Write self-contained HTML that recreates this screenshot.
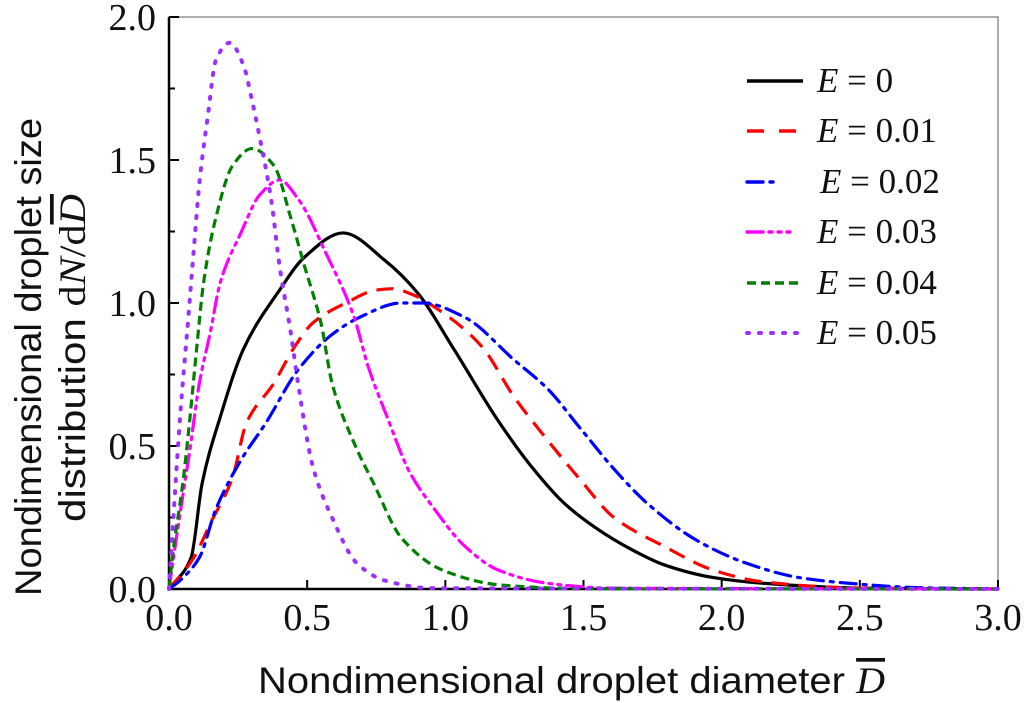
<!DOCTYPE html>
<html><head><meta charset="utf-8"><style>
body{margin:0;background:#fff;width:1024px;height:703px;overflow:hidden;position:relative}
svg{display:block}
.tk{font-family:"Liberation Serif",serif;font-size:38px;fill:#111}
.lg{font-family:"Liberation Serif",serif;font-size:35px;fill:#111}
.ti{font-family:"Liberation Sans",sans-serif;font-size:37px;fill:#111}
</style></head><body>
<svg id="chart" width="1024" height="703">
<g id="plot"></g>
</svg>
<script>
const xTicks=[0,0.5,1.0,1.5,2.0,2.5,3.0];
const xTickLabels=["0.0","0.5","1.0","1.5","2.0","2.5","3.0"];
const yTicks=[0,0.5,1.0,1.5,2.0];
const yTickLabels=["0.0","0.5","1.0","1.5","2.0"];
const seriesNames=["E = 0","E = 0.01","E = 0.02","E = 0.03","E = 0.04","E = 0.05"];
const x0=[0,0.08,0.12,0.185,0.27,0.40,0.49,0.63,0.78,0.90,1.03,1.19,1.31,1.43,1.55,1.67,1.79,1.97,2.15,2.5,3.0];
const y0=[0,0.11,0.37,0.60,0.84,1.045,1.16,1.245,1.15,1.035,0.84,0.59,0.43,0.30,0.21,0.14,0.085,0.04,0.02,0.003,0];
const x1=[0,0.09,0.15,0.23,0.28,0.38,0.45,0.52,0.64,0.75,0.81,0.88,0.97,1.13,1.25,1.37,1.49,1.61,1.79,1.97,2.15,2.5,3.0];
const y1=[0,0.11,0.23,0.39,0.58,0.72,0.84,0.93,1.0,1.045,1.05,1.03,0.98,0.85,0.67,0.52,0.38,0.25,0.15,0.066,0.025,0.003,0];
const x2=[0,0.04,0.11,0.17,0.26,0.35,0.47,0.59,0.69,0.84,0.92,1.07,1.25,1.37,1.49,1.61,1.73,1.91,2.09,2.28,2.46,2.7,3.0];
const y2=[0,0.03,0.11,0.28,0.45,0.58,0.77,0.89,0.95,1.0,1.0,0.95,0.80,0.70,0.56,0.42,0.30,0.17,0.09,0.04,0.02,0.005,0];
const x3=[0,0.03,0.076,0.11,0.15,0.185,0.26,0.33,0.40,0.47,0.57,0.67,0.72,0.79,0.87,0.96,1.07,1.19,1.37,1.6,3.0];
const y3=[0,0.2,0.49,0.72,0.90,1.07,1.245,1.38,1.43,1.36,1.17,0.95,0.78,0.60,0.41,0.28,0.15,0.067,0.02,0.003,0];
const x4=[0,0.016,0.05,0.076,0.10,0.125,0.17,0.23,0.30,0.38,0.44,0.49,0.55,0.59,0.67,0.74,0.84,0.99,1.2,1.5,3.0];
const y4=[0,0.14,0.37,0.60,0.84,1.07,1.30,1.48,1.54,1.48,1.30,1.13,0.93,0.72,0.51,0.37,0.18,0.066,0.014,0.001,0];
const x5=[0,0.016,0.04,0.07,0.09,0.11,0.14,0.17,0.22,0.27,0.30,0.33,0.37,0.40,0.44,0.47,0.52,0.59,0.68,0.78,0.95,3.0];
const y5=[0,0.25,0.6,0.95,1.19,1.42,1.65,1.85,1.91,1.83,1.71,1.57,1.36,1.13,0.90,0.70,0.43,0.25,0.09,0.03,0.003,0];
const XS=[x0,x1,x2,x3,x4,x5], YS=[y0,y1,y2,y3,y4,y5];
const colors=["#000","#ff0000","#0000ff","#ff00ff","#007f00","#9b30ff"];
const dashes=["","17 10","16 7 3 7","16 6 3 6 3 6","9 5","2 10"];
const caps=["butt","butt","round","round","butt","round"];
const L=169,R=998,T=17,B=589;
const sx=v=>L+(R-L)*v/3, sy=v=>B-(B-T)*v/2;
const NS="http://www.w3.org/2000/svg";
const svg=document.getElementById('chart');
function mk(t,a,p){const e=document.createElementNS(NS,t);for(const k in a)e.setAttribute(k,a[k]);(p||svg).appendChild(e);return e;}
const fr=mk('rect',{x:L,y:T,width:R-L,height:B-T,fill:'none',stroke:'#777','stroke-width':1.2});


const xa=mk('line',{x1:L,y1:B,x2:R,y2:B,stroke:'#000','stroke-width':2.5});


const ya=mk('line',{x1:L,y1:T,x2:L,y2:B,stroke:'#000','stroke-width':2.5});


xTicks.forEach((v,i)=>{
 const t=mk('line',{x1:sx(v),y1:B,x2:sx(v),y2:B-9,stroke:'#000','stroke-width':2});
 
 
 const tx=mk('text',{x:sx(v),y:B+41,'text-anchor':'middle',class:'tk'});tx.textContent=xTickLabels[i];
 
 
});
for(let v=0.25;v<2;v+=0.5){const t=mk('line',{x1:L,y1:sy(v),x2:L+6,y2:sy(v),stroke:'#000','stroke-width':2});
 
 }
yTicks.forEach((v,i)=>{
 const t=mk('line',{x1:L,y1:sy(v),x2:L+10,y2:sy(v),stroke:'#000','stroke-width':2});
 
 
 const tx=mk('text',{x:L-13,y:sy(v)+13,'text-anchor':'end',class:'tk'});tx.textContent=yTickLabels[i];
 
 
});
function path(xs,ys){
 const n=xs.length,h=[],d=[],m=[];
 for(let i=0;i<n-1;i++){h[i]=xs[i+1]-xs[i];d[i]=(ys[i+1]-ys[i])/h[i];}
 m[0]=d[0];m[n-1]=d[n-2];
 for(let i=1;i<n-1;i++){
  if(d[i-1]*d[i]<=0)m[i]=0;
  else{const w1=2*h[i]+h[i-1],w2=h[i]+2*h[i-1];m[i]=(w1+w2)/(w1/d[i-1]+w2/d[i]);}
 }
 let s='M'+sx(xs[0])+','+sy(ys[0]);
 for(let i=0;i<n-1;i++){
  const x1=xs[i]+h[i]/3,y1=ys[i]+m[i]*h[i]/3,x2=xs[i+1]-h[i]/3,y2=ys[i+1]-m[i+1]*h[i]/3;
  s+=' C'+sx(x1)+','+sy(y1)+' '+sx(x2)+','+sy(y2)+' '+sx(xs[i+1])+','+sy(ys[i+1]);
 }
 return s;
}
XS.forEach((xs,i)=>{
 const a={d:path(xs,YS[i]),fill:'none',stroke:colors[i],'stroke-width':i==5?4:3.2,'stroke-linecap':caps[i]};
 if(dashes[i])a['stroke-dasharray']=dashes[i];
 const p=mk('path',a);
 
 
});
const ly=[81,131,182,232,283,333];
seriesNames.forEach((n,i)=>{
 const a={x1:747,y1:ly[i],x2:i==2?780:(i==3?790:803),y2:ly[i],stroke:colors[i],'stroke-width':i==5?4:3.4,'stroke-linecap':caps[i]};
 if(dashes[i])a['stroke-dasharray']=i==1?"17 15":dashes[i];
 const l=mk('line',a);
 
 
 const t=mk('text',{x:i==2?820:817,y:ly[i]+11,class:'lg'});
 t.innerHTML='<tspan font-style="italic">E</tspan> = '+n.split('= ')[1];
 
 
});
</script>
<svg style="position:absolute;left:0;top:0" width="1024" height="703">
<text class="ti" x="258" y="693" textLength="627" lengthAdjust="spacingAndGlyphs">Nondimensional droplet diameter  <tspan font-family="Liberation Serif" font-style="italic" text-decoration="overline">D</tspan></text>
<g transform="translate(41,357) rotate(-90)">
<text class="ti" x="-239" y="0" textLength="478" lengthAdjust="spacingAndGlyphs">Nondimensional droplet size</text>
<text class="ti" x="-165" y="44" textLength="328" lengthAdjust="spacingAndGlyphs">distribution <tspan font-family="Liberation Serif">d<tspan font-style="italic">N</tspan>/d<tspan font-style="italic" text-decoration="overline">D</tspan></tspan></text>
</g>
</svg>
</body></html>
